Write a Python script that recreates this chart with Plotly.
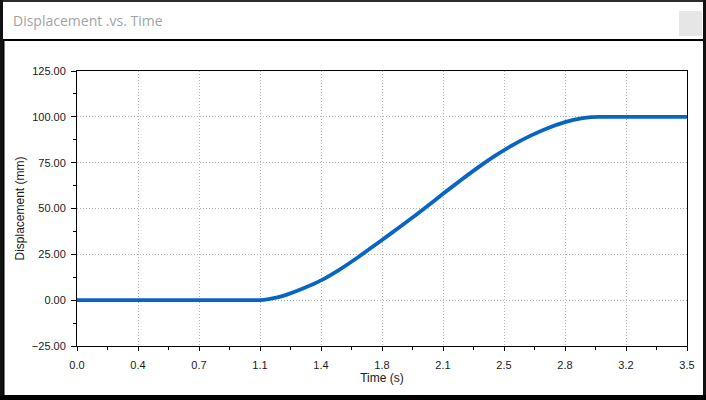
import plotly.graph_objects as go

# ---- data ----
time_s = [0.0, 0.5, 1.0, 1.05, 1.1, 1.15, 1.2, 1.3, 1.4, 1.5, 1.6, 1.7, 1.8, 1.9,
          2.0, 2.1, 2.2, 2.3, 2.4, 2.5, 2.6, 2.7, 2.8, 2.9, 2.95, 3.0, 3.5]
displacement_mm = [0.0, 0.0, 0.0, 0.0, 0.6, 1.5, 2.9, 6.5, 10.8, 16.3, 22.6, 29.4, 36.3, 43.3,
                   50.5, 58.0, 65.3, 72.3, 78.8, 84.6, 89.6, 93.8, 97.1, 99.3, 99.9, 100.0, 100.0]
x_tick_values = [0.0, 0.35, 0.7, 1.05, 1.4, 1.75, 2.1, 2.45, 2.8, 3.15, 3.5]
x_tick_labels = ["0.0", "0.4", "0.7", "1.1", "1.4", "1.8", "2.1", "2.5", "2.8", "3.2", "3.5"]
y_tick_values = [-25, 0, 25, 50, 75, 100, 125]

W, H = 706, 400
ML, MR, MT, MB = 77, 19, 71, 54
PW, PH = W - ML - MR, H - MT - MB


def px(x):
    return (x - ML) / PW


def py(y):
    return (H - MB - y) / PH


fig = go.Figure()
fig.add_trace(go.Scatter(
    x=time_s, y=displacement_mm, mode="lines",
    line=dict(color="#0866c2", width=3.8, shape="spline", smoothing=0.6),
    hoverinfo="skip", showlegend=False,
))

axis_font = dict(family="Arial, Liberation Sans, sans-serif", size=11, color="#1a1a1a")
title_font = dict(family="Arial, Liberation Sans, sans-serif", size=12, color="#1a1a1a")

fig.update_xaxes(
    range=[0, 3.5], tickvals=x_tick_values, ticktext=x_tick_labels,
    showline=True, linecolor="black", linewidth=1, mirror=True,
    ticks="outside", ticklen=4, tickcolor="black", tickfont=axis_font,
    ticklabelstandoff=5,
    showgrid=True, gridcolor="#b5b5b5", griddash="1px,2px", gridwidth=1,
    zeroline=False,
    minor=dict(dtick=0.175, tick0=0, ticks="outside", ticklen=3, tickcolor="black", showgrid=False),
    title=dict(text="Time (s)", font=title_font, standoff=2),
)
fig.update_yaxes(
    range=[-25, 125], tickvals=y_tick_values, tickformat=".2f",
    showline=True, linecolor="black", linewidth=1, mirror=True,
    ticks="outside", ticklen=5, tickcolor="black", tickfont=axis_font,
    ticklabelstandoff=3,
    showgrid=True, gridcolor="#b5b5b5", griddash="1px,2px", gridwidth=1,
    zeroline=False,
    minor=dict(dtick=12.5, tick0=0, ticks="outside", ticklen=3, tickcolor="black", showgrid=False),
    title=dict(text="Displacement (mm)", font=title_font, standoff=4),
)

shapes = []


def rect(x0, y0, x1, y1, color):
    shapes.append(dict(type="rect", xref="paper", yref="paper",
                       x0=px(x0), x1=px(x1), y0=py(y1), y1=py(y0),
                       fillcolor=color, line=dict(width=0), layer="above"))


rect(0, 0, W, 2, "#2b2b2b")
rect(0, 0, 3, H, "#111111")
rect(W - 3, 0, W, H, "#111111")
rect(0, H - 5, W, H, "#000000")
rect(3, 39, W - 3, 41, "#000000")
rect(3, 41, 4.5, H - 5, "#000000")
rect(679, 11, 702, 36, "#e6e6e6")

fig.update_layout(
    width=W, height=H,
    margin=dict(l=ML, r=MR, t=MT, b=MB),
    paper_bgcolor="white", plot_bgcolor="white",
    shapes=shapes,
    annotations=[dict(
        text="Displacement .vs. Time", xref="paper", yref="paper",
        x=px(11), y=py(21), xanchor="left", yanchor="middle", showarrow=False,
        font=dict(family="Open Sans, Noto Sans, sans-serif", size=14, color="#a3a3a3"),
    )],
)

fig.write_html("out.html", config={"displayModeBar": False},
               post_script="document.body.style.margin='0px';")
